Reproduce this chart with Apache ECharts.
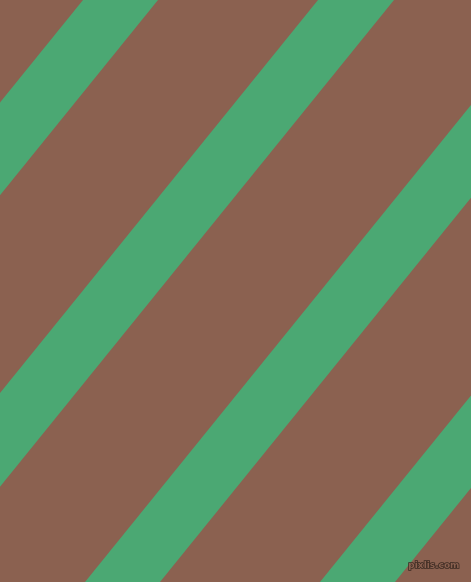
<!DOCTYPE html>
<html lang="en">
<head>
    <meta charset="UTF-8">
    <title>stripes</title>
    <script src="https://cdn.jsdelivr.net/npm/echarts@6/dist/echarts.min.js"></script>
    <style>
        html, body { margin: 0; padding: 0; background: #8b6150; }
    </style>
</head>
<body>
<div id="main" style="width: 471px;height:582px;"></div>
<script type="text/javascript">
    // stripe edges, measured along the top edge (x where the stripe meets y=0)
    var stripeStart = [83, 318, 556, 791];
    var stripeEnd = [158, 394, 631, 866];
    var canvasW = 471, canvasH = 582;

    var myChart = echarts.init(document.getElementById('main'));

    var stripes = [];
    for (var i = 0; i < stripeStart.length; i++) {
        stripes.push([stripeStart[i], stripeEnd[i]]);
    }

    var option = {
        backgroundColor: '#8b6150',
        animation: false,
        title: {
            text: 'pixlis.com',
            right: 5,
            bottom: 5,
            textStyle: {
                fontFamily: 'DejaVu Sans',
                fontSize: 9,
                fontWeight: 'bold',
                color: '#8b6150',
                textBorderColor: '#3b2a22',
                textBorderWidth: 1.5
            }
        },
        grid: { left: 0, right: 0, top: 0, bottom: 0 },
        xAxis: { type: 'value', min: 0, max: canvasW, show: false },
        yAxis: { type: 'value', min: 0, max: canvasH, inverse: true, show: false },
        series: [{
            type: 'custom',
            clip: true,
            data: stripes,
            renderItem: function (params, api) {
                var a = api.value(0), b = api.value(1);
                // edges run parallel to the canvas diagonal
                var shift = canvasW;
                var pts = [
                    api.coord([a, 0]),
                    api.coord([b, 0]),
                    api.coord([b - shift, canvasH]),
                    api.coord([a - shift, canvasH])
                ];
                return {
                    type: 'polygon',
                    shape: { points: pts },
                    style: { fill: '#4ba873' }
                };
            }
        }]
    };

    myChart.setOption(option);
</script>
</body>
</html>
